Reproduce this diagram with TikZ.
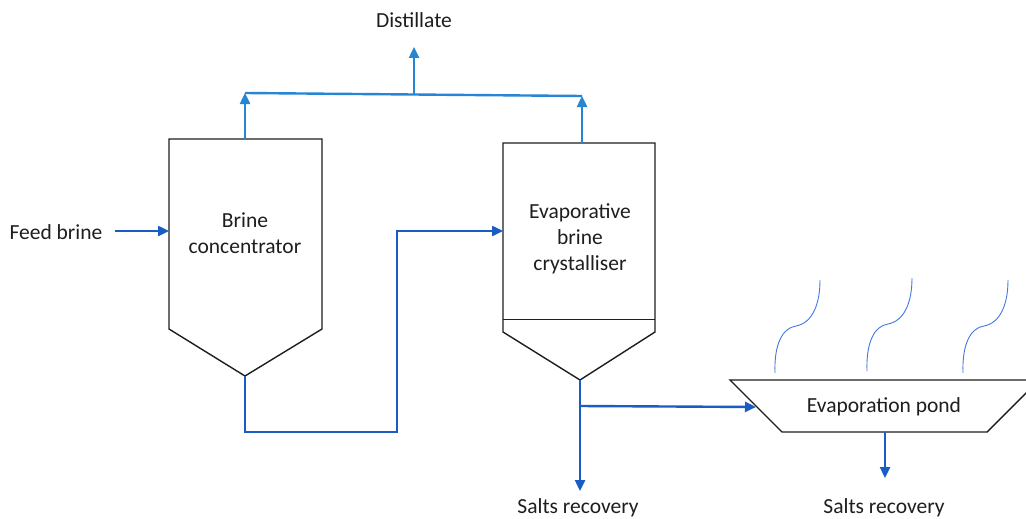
\documentclass[tikz,border=0pt]{standalone}
\usepackage{fontspec}
\setmainfont{Carlito}
\usetikzlibrary{arrows.meta}
\definecolor{lblue}{RGB}{38,134,212}
\definecolor{dblue}{RGB}{24,92,196}
\definecolor{sblue}{RGB}{70,120,225}
\definecolor{ink}{RGB}{30,30,30}
\begin{document}
\begin{tikzpicture}[x=1pt,y=-1pt,
  vessel/.style={draw=ink,line width=1.4pt,fill=white,line join=miter},
  thinline/.style={draw=ink,line width=0.7pt},
  flowd/.style={draw=dblue,line width=2.4pt,-{Triangle[length=11pt,width=10pt]}},
  flowl/.style={draw=lblue,line width=2.4pt,-{Triangle[length=11pt,width=10pt]}},
  flowln/.style={draw=lblue,line width=2.4pt},
  steam/.style={draw=sblue,line width=0.9pt},
  lbl/.style={font=\fontsize{21.5}{26}\selectfont,text=ink,align=center,inner sep=0pt}]
\clip (0,0) rectangle (1026,519);
\fill[white] (0,0) rectangle (1026,519);

% brine concentrator
\coordinate (bcTL) at (169,139);
\coordinate (bcTR) at (322,139);
\coordinate (bcBR) at (322,329);
\coordinate (bcApex) at (245,376);
\coordinate (bcBL) at (169,329);
\draw[vessel] (bcTL) -- (bcTR) -- (bcBR) -- (bcApex) -- (bcBL) -- cycle;
\node[lbl] (bc) at (245,233) {Brine\\concentrator};

% crystalliser
\coordinate (crTL) at (503,143);
\coordinate (crTR) at (655,143);
\coordinate (crBR) at (655,332);
\coordinate (crApex) at (580,380);
\coordinate (crBL) at (503,332);
\draw[vessel] (crTL) -- (crTR) -- (crBR) -- (crApex) -- (crBL) -- cycle;
\coordinate (crL) at (503,319);
\coordinate (crR) at (655,319);
\draw[thinline] (crL) -- (crR);
\node[lbl] (cr) at (580,239) {Evaporative\\brine\\crystalliser};

% evaporation pond
\coordinate (pTL) at (730,380);
\coordinate (pTR) at (1039,380);
\coordinate (pBR) at (987,432);
\coordinate (pBL) at (782,432);
\draw[vessel] (pTL) -- (pTR) -- (pBR) -- (pBL) -- cycle;
\node[lbl] (pond) at (884,407) {Evaporation pond};

% labels
\node[lbl] (feed) at (56,232) {Feed brine};
\node[lbl] (dist) at (414,20) {Distillate};
\node[lbl] (salt1) at (578,508) {Salts recovery};
\node[lbl] (salt2) at (884,508) {Salts recovery};

% feed
\coordinate (feedS) at (115,231);
\coordinate (bcIn) at (169,231);
\draw[flowd] (feedS) -- (bcIn);

% concentrator to crystalliser
\coordinate (crIn) at (503,231);
\draw[flowd] (bcApex) -- (245,432) -- (397,432) -- (397,231) -- (crIn);

% distillate
\coordinate (bcTop) at (245,139);
\coordinate (crTop) at (582,143);
\coordinate (hdL) at (245,93);
\coordinate (hdM) at (414,94.5);
\coordinate (hdR) at (582,96);
\coordinate (distTip) at (414,47);
\draw[flowl] (bcTop) -- (hdL);
\draw[flowl] (crTop) -- (hdR);
\draw[flowln] (hdL) -- (hdR);
\draw[flowl] (hdM) -- (distTip);

% crystalliser outlet
\coordinate (crBranch) at (580,406);
\coordinate (crOutTip) at (580,491);
\coordinate (pIn) at (756,407);
\draw[flowd] (crApex) -- (crOutTip);
\draw[flowd] (crBranch) -- (pIn);

% pond outlet
\coordinate (pOut) at (885,432);
\coordinate (pOutTip) at (885,478);
\draw[flowd] (pOut) -- (pOutTip);

% steam
\foreach \dx/\dy in {0/0, 92/-2, 188/0}{
  \draw[steam] (775+\dx,373+\dy) .. controls (774+\dx,345+\dy) and (782+\dx,328+\dy) .. (796+\dx,326+\dy)
     .. controls (812+\dx,323+\dy) and (820+\dx,305+\dy) .. (820+\dx,280+\dy);
}
\end{tikzpicture}
\end{document}
